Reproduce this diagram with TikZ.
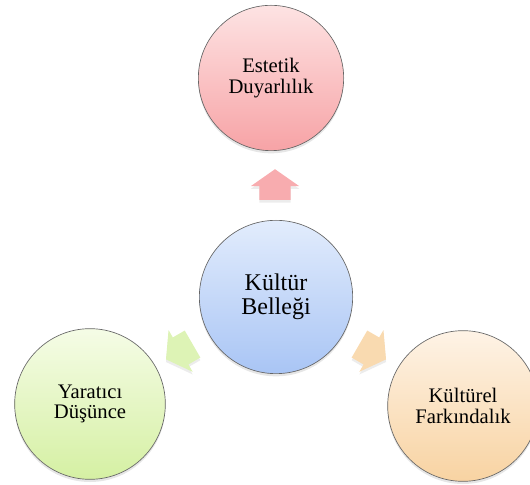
\documentclass[tikz,border=0pt]{standalone}
\usepackage{fontspec}
\setmainfont{Liberation Serif}
\usepackage{xcolor}
\usepackage{tikz}
\usetikzlibrary{shapes.arrows,shadows}

\definecolor{redtop}{HTML}{FDE3E3}
\definecolor{redbot}{HTML}{F7A3A6}
\definecolor{bluetop}{HTML}{E2ECFC}
\definecolor{bluebot}{HTML}{A9C5F5}
\definecolor{greentop}{HTML}{F5FCE6}
\definecolor{greenbot}{HTML}{D5F0A3}
\definecolor{orangetop}{HTML}{FEF3E6}
\definecolor{orangebot}{HTML}{F8D3A2}

\begin{document}
\begin{tikzpicture}[x=0.75pt,y=0.75pt,
        bubble/.style={circle, draw=black!60, line width=0.5pt, align=center, inner sep=0pt,
                drop shadow={opacity=0.2, shadow xshift=0pt, shadow yshift=-2pt}},
        pointer/.style={single arrow, draw=none, inner xsep=0pt, inner ysep=11.5pt,
                minimum height=23pt, single arrow head extend=6.4pt, single arrow tip angle=110,
                drop shadow={opacity=0.15, shadow xshift=0pt, shadow yshift=-2pt}}]
        \useasboundingbox (0,0) rectangle (530,484);
        \def\rim{15.5};
        \def\core{18};
        % circles %
        \node[bubble, minimum size=109pt, top color=redtop, bottom color=redbot,
                font=\fontsize{\rim}{\rim}\selectfont] (ed) at (271,406) {Estetik\\Duyarlılık};
        \node[bubble, minimum size=115pt, top color=bluetop, bottom color=bluebot,
                font=\fontsize{\core}{\core}\selectfont] (kb) at (276,187) {Kültür\\Belleği};
        \node[bubble, minimum size=113pt, top color=greentop, bottom color=greenbot,
                font=\fontsize{\rim}{\rim}\selectfont] (yd) at (90,80) {Yaratıcı\\Düşünce};
        \node[bubble, minimum size=113pt, top color=orangetop, bottom color=orangebot,
                font=\fontsize{\rim}{\rim}\selectfont] (kf) at (463,78) {Kültürel\\Farkındalık};
        % arrows from the center %
        \node[pointer, rotate=90, fill=redbot!90] (up) at (275,294) {};
        \node[pointer, rotate=210, fill=greenbot!80] (toyd) at (184,135) {};
        \node[pointer, rotate=-30, fill=orangebot!85] (tokf) at (368,135) {};
\end{tikzpicture}
\end{document}
